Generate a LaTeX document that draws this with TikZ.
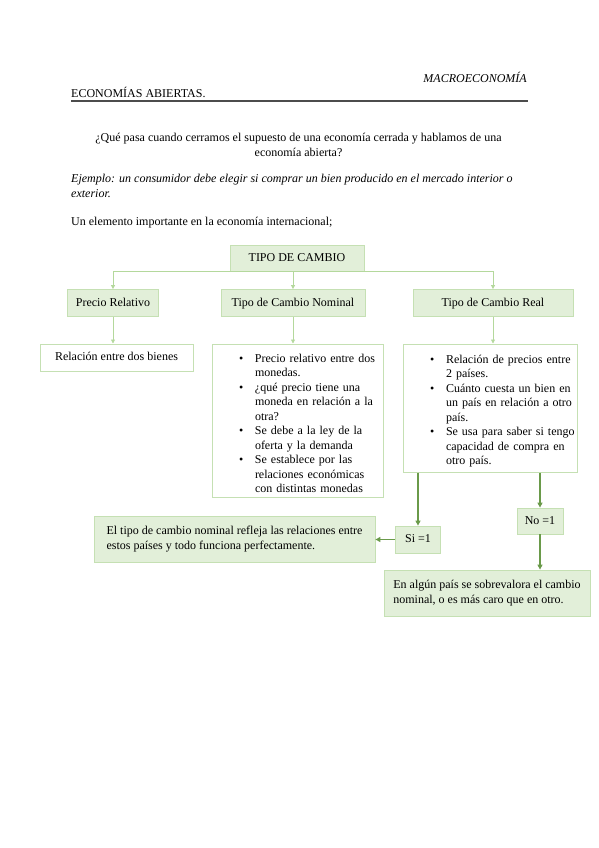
\documentclass[tikz,border=0pt]{standalone}
\usepackage{fontspec}
\setmainfont{Liberation Serif}
\usetikzlibrary{arrows.meta}
\definecolor{verdeclaro}{HTML}{E2EFD9}
\definecolor{verdeborde}{HTML}{C5E0B3}
\definecolor{verderama}{HTML}{B4D89C}
\definecolor{verdeoscuro}{HTML}{6A9A4A}
\newcommand{\punto}[1]{\par\noindent\hangindent=16pt\hangafter=1\makebox[16pt][l]{\textbullet}#1}

\begin{document}
\begin{tikzpicture}[x=1pt,y=-1pt,
    texto/.style={inner sep=0pt,font=\fontsize{12}{15}\selectfont},
    caja/.style={draw=verdeborde,fill=verdeclaro,line width=0.8pt,inner sep=0pt,align=left,font=\fontsize{12}{14.5}\selectfont},
    etiqueta/.style={caja,text height=8.5pt,text depth=2.5pt},
    cajablanca/.style={draw=verdeborde,fill=white,line width=1pt,inner sep=0pt,font=\fontsize{12}{14.5}\selectfont},
    rama/.style={draw=verderama,line width=0.8pt,-{Triangle[length=4pt,width=4pt]}},
    flecha/.style={draw=verdeoscuro,line width=1.2pt,-{Triangle[length=5pt,width=5pt]}}]
  \useasboundingbox (0,0) rectangle (599,848);
  % encabezado de la pagina
  \node[texto,anchor=base east,font=\fontsize{12}{15}\selectfont\itshape] (materia) at (527,83) {MACROECONOMÍA};
  \node[texto,anchor=base west] (tema) at (71,98) {ECONOMÍAS ABIERTAS.};
  \draw[line width=1.2pt,black!70] (71,101) -- (528,101);
  \node[texto,anchor=north,align=center] (pregunta) at (298.5,133) {¿Qué pasa cuando cerramos el supuesto de una economía cerrada y hablamos de una\\economía abierta?};
  \node[texto,anchor=north west,align=left,font=\fontsize{12}{15}\selectfont\itshape] (ejemplo) at (71,174) {Ejemplo: un consumidor debe elegir si comprar un bien producido en el mercado interior o\\exterior.};
  \node[texto,anchor=base west] (intro) at (71,225) {Un elemento importante en la economía internacional;};
  % esquema
  \node[etiqueta,minimum width=134,minimum height=26] (tipo) at (297,258) {TIPO DE CAMBIO};
  \node[etiqueta,minimum width=91,minimum height=27] (relativo) at (113,303) {Precio Relativo};
  \node[etiqueta,minimum width=144,minimum height=27] (nominal) at (293,303) {Tipo de Cambio Nominal};
  \node[etiqueta,minimum width=160,minimum height=27] (real) at (493,303) {Tipo de Cambio Real};
  \node[cajablanca,text height=8.5pt,text depth=2.5pt,minimum width=153,minimum height=27] (bienes) at (116.5,357.5) {Relación entre dos bienes};
  \node[cajablanca,text width=171,minimum height=153,align=left] (listanom) at (297.5,420.5) {\raggedright\leftskip=27pt
    \punto{Precio relativo entre dos\newline monedas.}
    \punto{¿qué precio tiene una\newline moneda en relación a la\newline otra?}
    \punto{Se debe a la ley de la\newline oferta y la demanda}
    \punto{Se establece por las\newline relaciones económicas\newline con distintas monedas}\par};
  \node[cajablanca,text width=174,minimum height=128,align=left] (listareal) at (490,408) {\raggedright\leftskip=27pt
    \punto{Relación de precios entre\newline 2 países.}
    \punto{Cuánto cuesta un bien en\newline un país en relación a otro\newline país.}
    \punto{Se usa para saber si tengo\newline capacidad de compra en\newline otro país.}\par};
  \node[etiqueta,minimum width=45,minimum height=27] (si) at (418,539.5) {Si =1};
  \node[etiqueta,minimum width=46,minimum height=26] (no) at (540,521) {No =1};
  \node[caja,minimum width=281,minimum height=46] (tiponom) at (234.5,539) {El tipo de cambio nominal refleja las relaciones entre\\estos países y todo funciona perfectamente.};
  \node[caja,minimum width=206,minimum height=46] (algun) at (487,593) {En algún país se sobrevalora el cambio\\nominal, o es más caro que en otro.};
  % conectores
  \draw[rama] (tipo.south) -| (relativo.north);
  \draw[rama] (tipo.south) -| (nominal.north);
  \draw[rama] (tipo.south) -| (real.north);
  \draw[rama] (relativo.south) -- (relativo.south |- bienes.north);
  \draw[rama] (nominal.south) -- (nominal.south |- listanom.north);
  \draw[rama] (real.south) -- (real.south |- listareal.north);
  \draw[flecha] (listareal.south -| si.north) -- (si.north);
  \draw[flecha] (listareal.south -| no.north) -- (no.north);
  \draw[flecha] (no.south) -- (no.south |- algun.north);
  \draw[flecha] (si.west) -- (si.west -| tiponom.east);
\end{tikzpicture}
\end{document}
